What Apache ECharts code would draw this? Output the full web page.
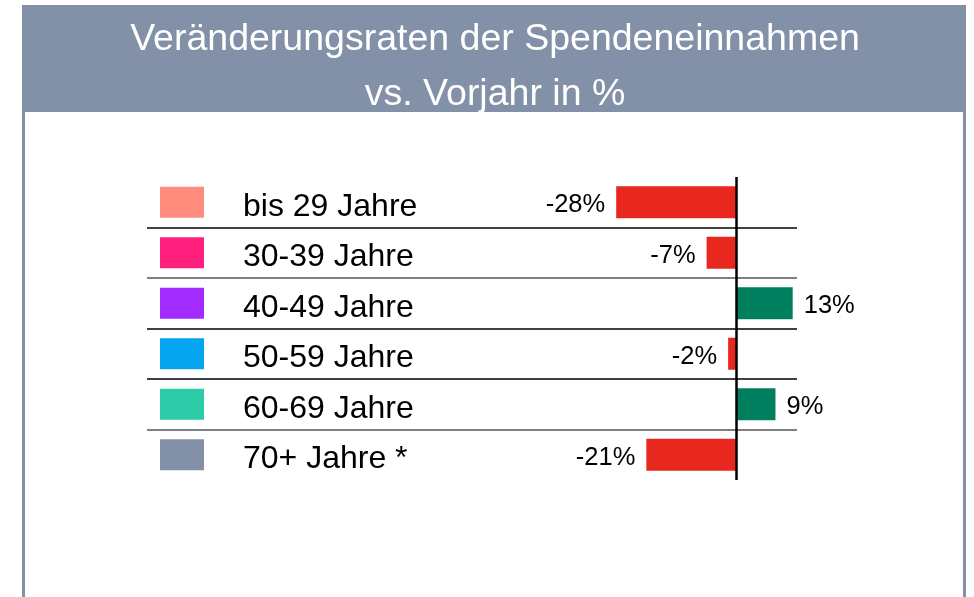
<!DOCTYPE html>
<html>
<head>
<meta charset="utf-8">
<script src="https://cdn.jsdelivr.net/npm/echarts@6/dist/echarts.min.js"></script>
<style>
  html, body { margin: 0; padding: 0; background: #fff; }
  #chart { width: 974px; height: 597px; }
</style>
</head>
<body>
<div id="chart"></div>
<script>
// Altersgruppen und Veränderung vs. Vorjahr (%)
const categories = ['bis 29 Jahre', '30-39 Jahre', '40-49 Jahre', '50-59 Jahre', '60-69 Jahre', '70+ Jahre *']
const changes = [-28, -7, 13, -2, 9, -21]
const groupColors = ['#FF8C7C', '#FF1F7D', '#A22BFF', '#05A6EF', '#2ECBA8', '#8290A8']

const FONT = '"Liberation Sans", Arial, sans-serif'
const FRAME = '#8290A8'

const chart = echarts.init(document.getElementById('chart'))

// rich styles fuer die farbigen Quadrate vor den Labels
const rich = {
  t: { fontSize: 32, fontFamily: FONT, color: '#000', padding: [9, 0, 0, 39] },
}
groupColors.forEach((c, i) => {
  rich['sq' + i] = { width: 44, height: 31, backgroundColor: c }
})

const barData = changes.map(v => ({
  value: v,
  itemStyle: { color: v < 0 ? '#E8281F' : '#007F5F' },
  label: { position: v < 0 ? 'left' : 'right' },
}))

chart.setOption({
  animation: false,
  title: {
    text: 'Veränderungsraten der Spendeneinnahmen\nvs. Vorjahr in %',
    left: 490,
    top: 7,
    textAlign: 'center',
    z: 10,
    textStyle: {
      color: '#fff',
      fontSize: 37.5,
      fontWeight: 'normal',
      fontFamily: FONT,
      lineHeight: 55,
    },
  },
  graphic: [
    { type: 'rect', z: 0, shape: { x: 22, y: 5, width: 944, height: 107 }, style: { fill: FRAME } },
    { type: 'rect', z: 0, shape: { x: 22, y: 112, width: 3, height: 485 }, style: { fill: FRAME } },
    { type: 'rect', z: 0, shape: { x: 963, y: 112, width: 3, height: 485 }, style: { fill: FRAME } },
  ],
  grid: { left: 147, right: 177, top: 177, bottom: 117, containLabel: false },
  xAxis: {
    type: 'value',
    min: -137,
    max: 14,
    show: false,
  },
  yAxis: {
    type: 'category',
    inverse: true,
    data: categories,
    axisLine: { show: false },
    axisTick: { show: false },
    splitLine: {
      show: true,
      lineStyle: {
        width: 1.6,
        color: ['rgba(0,0,0,0)', '#000', '#555', '#000', '#000', '#555', 'rgba(0,0,0,0)'],
      },
    },
    axisLabel: {
      inside: true,
      margin: 13,
      align: 'left',
      formatter: (v, i) => `{sq${i}| }{t|${v}}`,
      rich,
    },
  },
  series: [
    {
      type: 'bar',
      data: barData,
      barWidth: 32,
      label: {
        show: true,
        distance: 11,
        offset: [0, 3],
        formatter: '{c}%',
        fontSize: 25.5,
        fontFamily: FONT,
        color: '#000',
      },
      markLine: {
        silent: true,
        symbol: 'none',
        label: { show: false },
        lineStyle: { color: '#000', width: 2.5, type: 'solid' },
        data: [{ xAxis: 0 }],
      },
    },
  ],
})
</script>
</body>
</html>
